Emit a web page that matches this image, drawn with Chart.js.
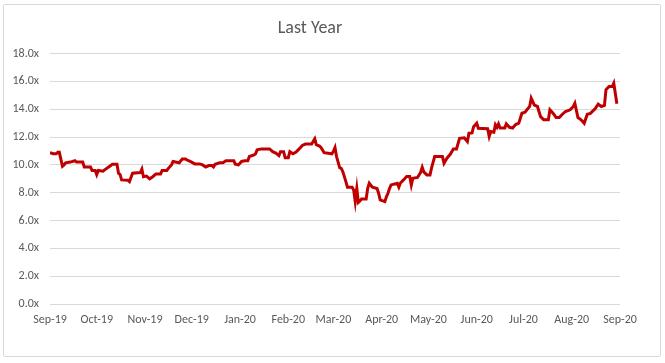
<!DOCTYPE html>
<html>
<head>
<meta charset="utf-8">
<script src="https://cdn.jsdelivr.net/npm/chart.js@4.4.1/dist/chart.umd.min.js"></script>
<style>
  html, body { margin: 0; padding: 0; background: #fff; }
  .frame { position: absolute; left: 3px; top: 4px; width: 656px; height: 351px; border: 1px solid #d9d9d9; border-radius: 2px; }
  .wrap { position: relative; width: 665px; height: 363px; }
</style>
</head>
<body>
<div class="wrap">
  <div class="frame"></div>
  <canvas id="lastYear"></canvas>
</div>
<script>
// days counted from the first date on the axis
const startDate = '2019-09-02';
const dayOffsets = [
  0, 2, 4, 5, 6, 8, 9, 10, 13, 16, 17, 21, 22, 26, 27, 29, 30, 31, 34, 37,
  39, 40, 43, 44, 45, 46, 50, 51, 52, 53, 58, 59, 60, 62, 64, 66, 68, 71, 72, 75,
  76, 78, 79, 83, 84, 85, 87, 88, 90, 93, 96, 98, 100, 102, 104, 105, 106, 109, 111, 113,
  118, 119, 121, 123,
  125, 127, 128, 131, 132, 133, 136, 141, 143, 145, 147, 148, 150, 151, 153, 154, 156, 158, 160, 162,
  164, 168, 170, 171, 173, 174, 176, 181, 182, 183, 184, 185, 186, 187, 188, 189, 190, 191, 194, 195,
  196, 197, 198, 199, 200, 203, 204, 205, 207, 210, 211, 212, 215, 216, 217, 218, 219, 223, 224, 225,
  227, 229, 231, 232, 233, 236, 238, 239, 240, 242, 244, 245,
  247, 252, 253, 255, 257, 259, 261, 263, 266, 268, 269, 271, 272, 274, 275, 281, 282, 283, 285, 286,
  287, 288, 289, 292, 293, 295, 297, 299, 301, 303, 305, 308, 309, 311, 313, 315, 317, 320, 321, 323,
  325, 327, 329, 331, 334, 336, 337, 339, 341, 343, 345, 347, 350, 352, 354, 356, 357, 359, 361, 362,
  364
];
const multiples = [
  10.88, 10.8, 10.8, 10.9, 10.9, 9.9, 10.0, 10.15, 10.2, 10.3, 10.2, 10.2, 9.85, 9.85, 9.6, 9.6, 9.3, 9.6, 9.55, 9.8,
  9.95, 10.05, 10.05, 9.4, 9.3, 8.92, 8.9, 8.8, 9.1, 9.4, 9.45, 9.7, 9.15, 9.2, 9.0, 9.15, 9.35, 9.35, 9.6, 9.6,
  9.75, 10.0, 10.24, 10.15, 10.3, 10.43, 10.43, 10.35, 10.25, 10.07, 10.07, 10.0, 9.85, 9.95, 9.95, 9.85, 10.05, 10.15, 10.15, 10.3,
  10.3, 10.05, 10.0, 10.25,
  10.3, 10.3, 10.6, 10.72, 10.8, 11.08, 11.15, 11.15, 10.95, 10.85, 10.67, 10.95, 10.95, 10.52, 10.52, 10.95, 10.8, 10.92, 11.15, 11.4,
  11.5, 11.5, 11.87, 11.45, 11.35, 11.25, 10.88, 10.8, 10.97, 11.24, 10.6, 10.2, 9.8, 9.75, 9.52, 9.16, 8.8, 8.39, 8.39, 8.2,
  7.36, 8.3, 7.3, 7.4, 7.55, 7.55, 8.32, 8.68, 8.39, 8.3, 7.96, 7.48, 7.36, 7.7, 7.96, 8.3, 8.56, 8.68, 8.4, 8.7,
  8.92, 9.16, 9.16, 8.55, 9.04, 9.1, 9.47, 9.83, 9.5, 9.28, 9.28, 9.79,
  10.6, 10.6, 10.12, 10.5, 10.76, 11.15, 11.15, 11.91, 11.95, 11.68, 12.28, 12.3, 12.75, 13.0, 12.63, 12.6, 12.04, 12.4, 12.35, 12.88,
  12.7, 12.95, 12.65, 12.65, 12.95, 12.7, 12.65, 12.9, 13.0, 13.71, 13.78, 14.2, 14.79, 14.3, 14.2, 13.47, 13.24, 13.24, 13.96, 13.72,
  13.4, 13.4, 13.64, 13.84, 13.96, 14.2, 14.43, 13.4, 13.24, 12.99, 13.64, 13.7, 14.03, 14.36, 14.2, 14.28, 15.4, 15.63, 15.63, 15.87,
  14.39
];
const tickLabels = ['Sep-19','Oct-19','Nov-19','Dec-19','Jan-20','Feb-20','Mar-20','Apr-20','May-20','Jun-20','Jul-20','Aug-20','Sep-20'];
const tickDays = [0, 30, 61, 91, 122, 153, 182, 213, 243, 274, 304, 335, 366];

const grey = '#595959';
const fontFamily = 'Carlito, Calibri, Lato, "Open Sans", sans-serif';

const points = dayOffsets.map((d, i) => ({ x: d, y: multiples[i] }));

const config = {
    type: 'line',
    data: {
        datasets: [{
            label: 'Last Year',
            data: points,
            borderColor: '#C00000',
            borderWidth: 3,
            pointRadius: 0,
            tension: 0,
            fill: false
        }]
    },
    options: {
        responsive: true,
        maintainAspectRatio: false,
        animation: false,
        layout: {
            padding: { left: 0, right: 45, top: 0, bottom: 0 }
        },
        plugins: {
            legend: { display: false },
            tooltip: { enabled: false },
            title: {
                display: true,
                text: 'Last Year',
                color: grey,
                font: { family: fontFamily, size: 18, weight: 'normal' },
                padding: { top: 18, bottom: 14 }
            }
        },
        scales: {
            x: {
                type: 'linear',
                min: 0,
                max: 366,
                afterBuildTicks: (scale) => {
                    scale.ticks = tickDays.map(v => ({ value: v }));
                },
                afterFit: (scale) => { scale.height = 59; },
                ticks: {
                    autoSkip: false,
                    maxRotation: 0,
                    color: grey,
                    padding: 9,
                    font: { family: fontFamily, size: 12 },
                    callback: (v, i) => tickLabels[i]
                },
                grid: { display: false, drawTicks: false },
                border: { display: false }
            },
            y: {
                min: 0,
                max: 18,
                afterFit: (scale) => { scale.width = 50; },
                ticks: {
                    stepSize: 2,
                    color: grey,
                    padding: 11,
                    font: { family: fontFamily, size: 12 },
                    callback: (v) => v.toFixed(1) + 'x'
                },
                grid: { color: '#d9d9d9', drawTicks: false },
                border: { display: false }
            }
        }
    }
};

var myChart = new Chart(document.getElementById('lastYear'), config);
</script>
</body>
</html>
